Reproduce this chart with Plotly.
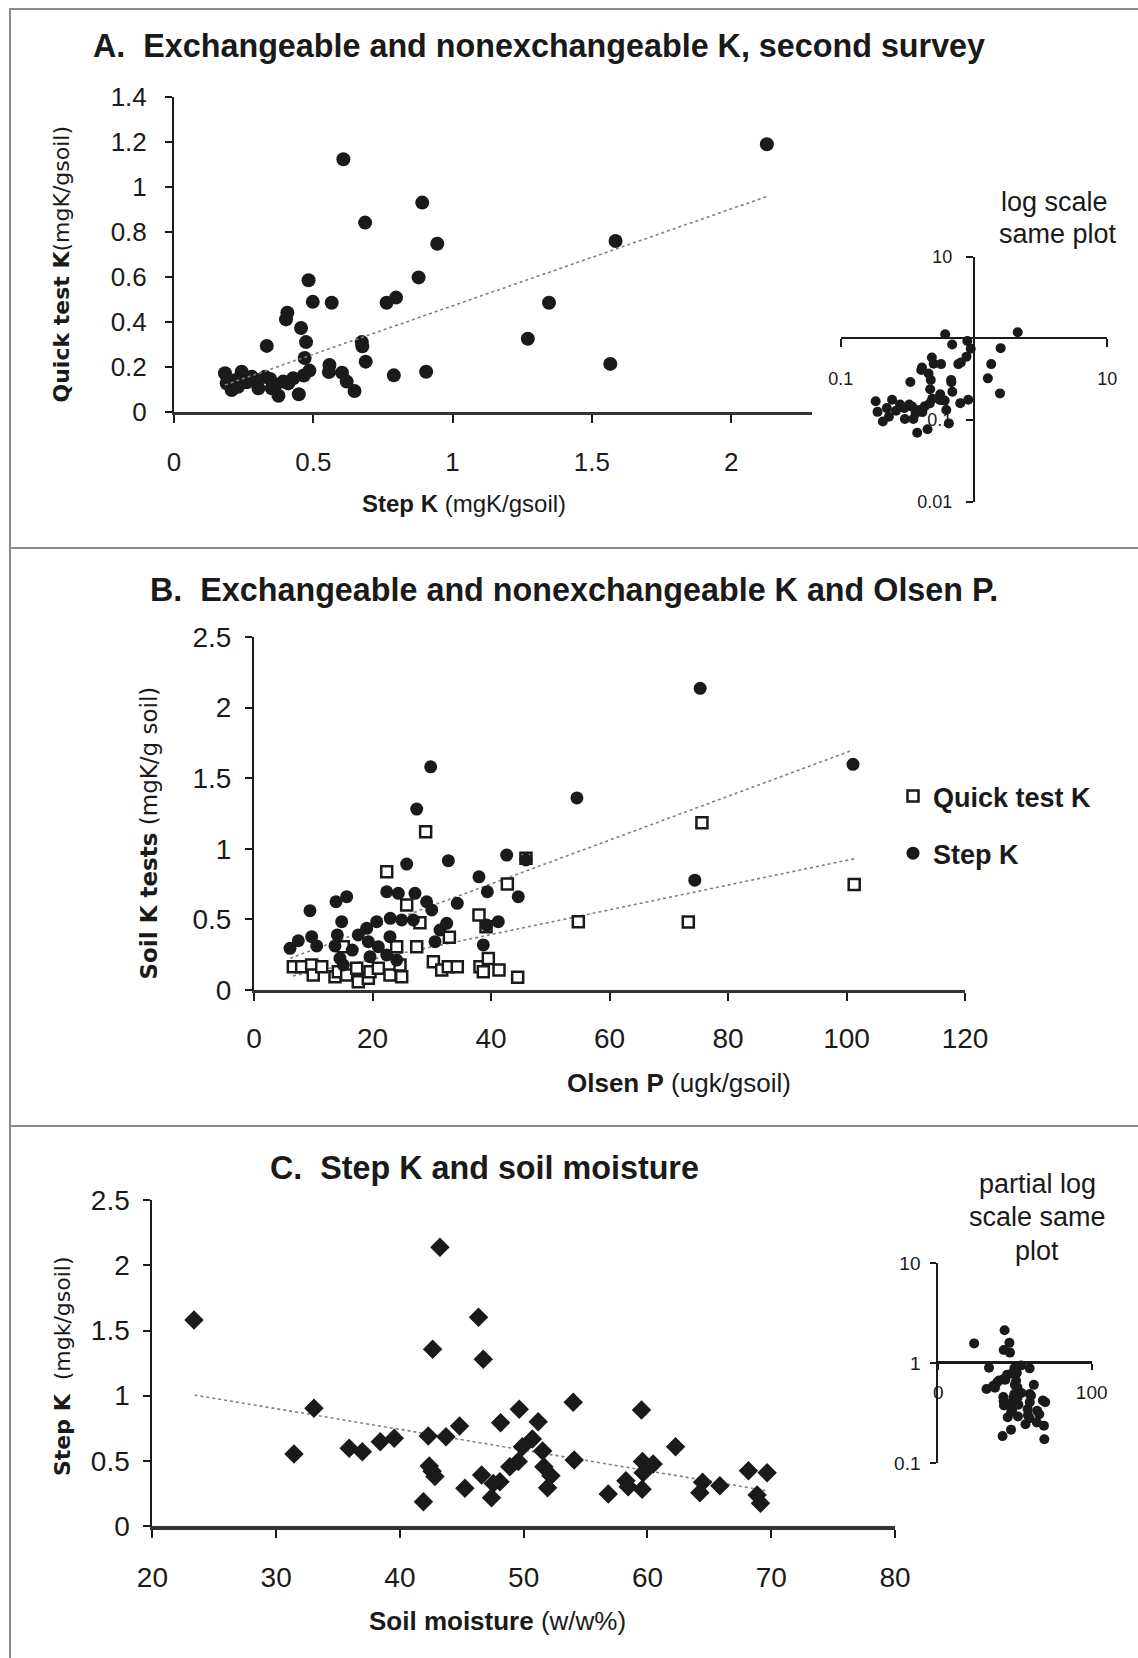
import plotly.graph_objects as go

W, H = 1138, 1658
INK = "#1a1a1a"
FONT = "Liberation Sans, Arial, sans-serif"
WIDE = "DejaVu Sans, Verdana, sans-serif"

# ---- Panel A: step K vs quick test K (mgK/g soil), second survey ----
A_STEP_K = [0.608, 0.891, 0.686, 0.945, 0.878, 0.483, 0.498, 0.566, 0.763, 0.797,
            1.346, 1.270, 0.407, 0.402, 0.456, 0.333, 0.474, 0.674, 0.676, 0.469,
            0.688, 0.558, 0.556, 0.789, 0.905, 0.603, 0.620, 0.648, 0.448, 0.486,
            1.566, 1.585, 2.128, 0.183, 0.243, 0.189, 0.207, 0.230, 0.279, 0.303,
            0.327, 0.351, 0.375, 0.392, 0.428, 0.260, 0.365, 0.410, 0.300, 0.345,
            0.466, 0.222]
A_QUICK_K = [1.123, 0.930, 0.841, 0.747, 0.597, 0.584, 0.488, 0.484, 0.484, 0.507,
             0.484, 0.324, 0.440, 0.410, 0.372, 0.292, 0.309, 0.309, 0.290, 0.238,
             0.222, 0.207, 0.176, 0.161, 0.177, 0.173, 0.133, 0.091, 0.077, 0.182,
             0.212, 0.759, 1.190, 0.170, 0.177, 0.126, 0.096, 0.110, 0.155, 0.103,
             0.155, 0.103, 0.070, 0.133, 0.148, 0.130, 0.120, 0.125, 0.140, 0.145,
             0.160, 0.140]
A_TREND_X = [0.183, 2.128]
A_TREND_Y = [0.118, 0.957]
A_XTICKS = [0, 0.5, 1, 1.5, 2]
A_YTICKS = [0, 0.2, 0.4, 0.6, 0.8, 1, 1.2, 1.4]

# ---- Panel B: soil K tests vs Olsen P ----
B_OLSEN_QUICK = [6.64, 8.05, 9.73, 10.0, 11.43, 13.67, 14.23, 15.07, 15.64, 17.33,
                 17.6, 19.3, 19.58, 20.98, 22.95, 24.64, 24.08, 27.46, 24.93, 22.4,
                 25.77, 28.97, 42.76, 45.9, 54.74, 37.97, 39.16, 32.97, 28.0, 30.27,
                 31.68, 32.8, 34.31, 38.14, 39.55, 38.7, 41.35, 44.5, 75.6, 101.3, 73.3]
B_QUICK_K = [0.165, 0.165, 0.177, 0.106, 0.165, 0.094, 0.13, 0.307, 0.106, 0.154,
             0.059, 0.083, 0.13, 0.154, 0.106, 0.177, 0.307, 0.307, 0.094, 0.838,
             0.602, 1.121, 0.751, 0.933, 0.484, 0.531, 0.448, 0.373, 0.477, 0.2,
             0.142, 0.165, 0.165, 0.165, 0.224, 0.13, 0.142, 0.09, 1.185, 0.747, 0.482]
B_OLSEN_STEP = [6.08, 7.48, 9.45, 9.73, 10.58, 13.84, 15.64, 14.8, 14.06, 13.67,
                14.51, 15.07, 16.58, 17.6, 19.02, 20.7, 23.0, 24.93, 26.9, 19.3,
                20.98, 22.95, 22.4, 19.58, 24.08, 22.4, 24.36, 27.17, 25.77, 29.82,
                27.46, 32.8, 42.65, 45.9, 37.97, 39.38, 44.6, 34.31, 29.14, 30.0,
                32.52, 31.39, 41.23, 39.27, 38.7, 30.55, 75.3, 101.1, 54.5, 74.4]
B_STEP_K = [0.295, 0.349, 0.562, 0.378, 0.312, 0.625, 0.661, 0.484, 0.39, 0.312,
            0.224, 0.177, 0.283, 0.39, 0.437, 0.484, 0.508, 0.496, 0.496, 0.342,
            0.307, 0.378, 0.248, 0.236, 0.212, 0.696, 0.685, 0.685, 0.892, 1.581,
            1.282, 0.916, 0.956, 0.921, 0.802, 0.696, 0.661, 0.614, 0.625, 0.567,
            0.472, 0.425, 0.484, 0.46, 0.319, 0.342, 2.137, 1.599, 1.361, 0.778]
B_STEP_TREND_X = [6.1, 101.1]
B_STEP_TREND_Y = [0.225, 1.70]
B_QUICK_TREND_X = [6.6, 101.3]
B_QUICK_TREND_Y = [0.10, 0.93]
B_XTICKS = [0, 20, 40, 60, 80, 100, 120]
B_YTICKS = [0, 0.5, 1, 1.5, 2, 2.5]

# ---- Panel C: step K vs soil moisture ----
C_MOISTURE = [23.36, 43.23, 46.35, 42.64, 46.73, 33.05, 31.44, 35.9, 36.96, 38.41,
              39.54, 42.29, 43.72, 44.82, 48.13, 49.64, 42.37, 42.6, 42.83, 41.9,
              45.25, 46.6, 47.54, 48.08, 47.4, 48.88, 49.56, 49.9, 50.7, 51.17,
              54.0, 51.53, 51.63, 52.2, 51.93, 54.08, 56.83, 58.26, 58.44, 59.52,
              59.6, 59.65, 60.46, 59.57, 62.27, 64.45, 64.23, 65.85, 68.16, 69.67,
              68.86, 69.13]
C_STEP_K = [1.581, 2.139, 1.601, 1.356, 1.279, 0.903, 0.553, 0.596, 0.570, 0.647,
            0.673, 0.691, 0.685, 0.767, 0.793, 0.895, 0.460, 0.420, 0.379, 0.187,
            0.289, 0.391, 0.327, 0.340, 0.217, 0.455, 0.494, 0.609, 0.668, 0.800,
            0.949, 0.576, 0.455, 0.386, 0.294, 0.506, 0.246, 0.348, 0.302, 0.890,
            0.494, 0.409, 0.476, 0.282, 0.609, 0.335, 0.256, 0.309, 0.424, 0.409,
            0.238, 0.174]
C_TREND_X = [23.4, 69.7]
C_TREND_Y = [1.005, 0.27]
C_XTICKS = [20, 30, 40, 50, 60, 70, 80]
C_YTICKS = [0, 0.5, 1, 1.5, 2, 2.5]


def px(x):
    return x / W


def py(y):
    return 1 - y / H


def axis(size, **kw):
    base = dict(showline=True, linecolor=INK, linewidth=2, ticks="outside",
                tickcolor=INK, tickwidth=2, ticklen=8, showgrid=False,
                zeroline=False, fixedrange=True, automargin=False,
                tickfont=dict(family=FONT, size=size, color=INK))
    base.update(kw)
    return base


fig = go.Figure()

dots = dict(color=INK, size=14, line=dict(width=0))
trend = dict(color="#808080", width=1.6, dash="dot")

# Panel A
fig.add_trace(go.Scatter(x=A_STEP_K, y=A_QUICK_K, mode="markers", marker=dots,
                         xaxis="x", yaxis="y", showlegend=False, cliponaxis=False))
fig.add_trace(go.Scatter(x=A_TREND_X, y=A_TREND_Y, mode="lines", line=trend,
                         xaxis="x", yaxis="y", showlegend=False))
fig.add_trace(go.Scatter(x=A_STEP_K, y=A_QUICK_K, mode="markers",
                         marker=dict(color=INK, size=10),
                         xaxis="x2", yaxis="y2", showlegend=False, cliponaxis=False))

# Panel B
fig.add_trace(go.Scatter(x=B_QUICK_TREND_X, y=B_QUICK_TREND_Y, mode="lines", line=trend,
                         xaxis="x3", yaxis="y3", showlegend=False))
fig.add_trace(go.Scatter(x=B_STEP_TREND_X, y=B_STEP_TREND_Y, mode="lines", line=trend,
                         xaxis="x3", yaxis="y3", showlegend=False))
fig.add_trace(go.Scatter(x=B_OLSEN_QUICK, y=B_QUICK_K, mode="markers",
                         name="<b>Quick test K</b>", legendgroup="q",
                         marker=dict(symbol="square", color="white", size=11,
                                     line=dict(color=INK, width=2.5)),
                         xaxis="x3", yaxis="y3", cliponaxis=False))
fig.add_trace(go.Scatter(x=B_OLSEN_STEP, y=B_STEP_K, mode="markers",
                         name="<b>Step K</b>", legendgroup="s",
                         marker=dict(color=INK, size=13),
                         xaxis="x3", yaxis="y3", cliponaxis=False))

# Panel C
fig.add_trace(go.Scatter(x=C_TREND_X, y=C_TREND_Y, mode="lines", line=trend,
                         xaxis="x4", yaxis="y4", showlegend=False))
fig.add_trace(go.Scatter(x=C_MOISTURE, y=C_STEP_K, mode="markers",
                         marker=dict(symbol="diamond", color=INK, size=15),
                         xaxis="x4", yaxis="y4", showlegend=False, cliponaxis=False))
fig.add_trace(go.Scatter(x=C_MOISTURE, y=C_STEP_K, mode="markers",
                         marker=dict(color=INK, size=10),
                         xaxis="x5", yaxis="y5", showlegend=False, cliponaxis=False))

layout_axes = dict(
    # Panel A main
    xaxis=axis(26, domain=[px(174), px(812)], range=[0, 2.29], anchor="y",
               tickvals=A_XTICKS, linewidth=3, linecolor="#333",
               ticklabelstandoff=17),
    yaxis=axis(26, domain=[py(411.5), py(97)], range=[0, 1.4], anchor="x",
               tickvals=A_YTICKS, ticklen=7, ticklabelstandoff=13),
    # Panel A log inset
    xaxis2=axis(18, type="log", range=[-1, 1], domain=[px(840.7), px(1107.3)],
                anchor="free", position=py(338.3), tickvals=[0.1, 1, 10],
                ticktext=["0.1", "", "10"], ticklabelstandoff=16,
                layer="below traces"),
    yaxis2=axis(18, type="log", range=[-2, 1], domain=[py(501.7), py(256.7)],
                anchor="free", position=px(974), tickvals=[0.01, 0.1, 1, 10],
                ticktext=["0.01", "0.1", "", "10"], ticklen=7,
                ticklabelstandoff=10, layer="below traces"),
    # Panel B
    xaxis3=axis(28, domain=[px(254), px(965)], range=[0, 120], anchor="y3",
                tickvals=B_XTICKS, linewidth=3, linecolor="#333",
                ticklabelstandoff=13),
    yaxis3=axis(28, domain=[py(990), py(637.1)], range=[0, 2.5], anchor="x3",
                tickvals=B_YTICKS, ticklen=7, ticklabelstandoff=8),
    # Panel C
    xaxis4=axis(28, domain=[px(152.4), px(895)], range=[20, 80], anchor="y4",
                tickvals=C_XTICKS, linewidth=4, linecolor="#333",
                ticklabelstandoff=15),
    yaxis4=axis(28, domain=[py(1526), py(1200.2)], range=[0, 2.5], anchor="x4",
                tickvals=C_YTICKS, ticklen=7, ticklabelstandoff=8),
    # Panel C partial-log inset
    xaxis5=axis(19, range=[0, 100], domain=[px(938.3), px(1091.7)],
                anchor="free", position=py(1362.3), tickvals=[0, 100],
                ticktext=["0", "100"], linewidth=2.5, ticklen=6,
                ticklabelstandoff=6, layer="below traces"),
    yaxis5=axis(19, type="log", range=[-1, 1], domain=[py(1463.3), py(1263.3)],
                anchor="x5", tickvals=[0.1, 1, 10], ticktext=["0.1", "1", "10"],
                ticklen=6, ticklabelstandoff=6, layer="below traces"),
)


def note(x, y, text, size, family=FONT, angle=0, xanchor="center"):
    return dict(x=px(x), y=py(y), xref="paper", yref="paper", text=text,
                showarrow=False, textangle=angle, xanchor=xanchor,
                yanchor="middle", font=dict(family=family, size=size, color=INK))


annotations = [
    note(538.5, 45.5, "<b>A.  Exchangeable and nonexchangeable K, second survey</b>", 32.3),
    note(573.5, 590, "<b>B.  Exchangeable and nonexchangeable K and Olsen P.</b>", 32.3),
    note(484.5, 1168, "<b>C.  Step K and soil moisture</b>", 32.3),
    note(61, 264.5, "<b>Quick test K</b>(mgK/gsoil)", 22, WIDE, -90),
    note(149, 833.5, "<b>Soil K tests</b> (mgK/g soil)", 23, WIDE, -90),
    note(62, 1366, "<b>Step K</b>  (mgk/gsoil)", 22, WIDE, -90),
    note(464, 503, "<b>Step K</b> (mgK/gsoil)", 24),
    note(678.5, 1083, "<b>Olsen P</b> (ugk/gsoil)", 26),
    note(497, 1621, "<b>Soil moisture</b> (w/w%)", 26),
    note(999, 202, "log scale", 27, xanchor="left"),
    note(997, 234, "same plot", 27, xanchor="left"),
    note(1037, 1184, "partial log", 27),
    note(1037, 1217, "scale same", 27),
    note(1037, 1251, "plot", 27),
]

border = dict(color="#8c8c8c", width=2)
shapes = [
    dict(type="line", xref="paper", yref="paper", x0=px(9), x1=1, y0=py(9), y1=py(9), line=border),
    dict(type="line", xref="paper", yref="paper", x0=px(10), x1=px(10), y0=py(9), y1=0, line=border),
    dict(type="line", xref="paper", yref="paper", x0=px(10), x1=1, y0=py(548), y1=py(548), line=border),
    dict(type="line", xref="paper", yref="paper", x0=px(10), x1=1, y0=py(1126), y1=py(1126), line=border),
]

fig.update_layout(
    template="none",
    width=W, height=H, autosize=False,
    margin=dict(l=0, r=0, t=0, b=0, pad=0, autoexpand=False),
    paper_bgcolor="white", plot_bgcolor="white",
    font=dict(family=FONT, color=INK),
    showlegend=True,
    legend=dict(x=px(893), y=py(772), xanchor="left", yanchor="top",
                bgcolor="rgba(0,0,0,0)", traceorder="grouped", tracegroupgap=19,
                font=dict(family=FONT, size=27, color=INK)),
    annotations=annotations, shapes=shapes,
    **layout_axes,
)

fig.write_html("out.html", config={"displayModeBar": False, "staticPlot": True})
